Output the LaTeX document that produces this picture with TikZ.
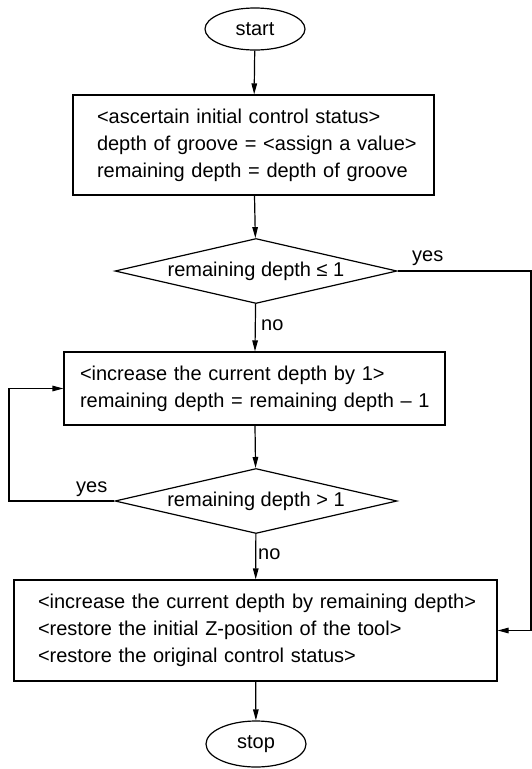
\documentclass[tikz,border=0pt]{standalone}
\usepackage{fontspec}
\setmainfont{Liberation Sans}
\usetikzlibrary{shapes.geometric,arrows.meta,calc}
\begin{document}
\begin{tikzpicture}[x=1pt,y=-1pt,
  every node/.style={font=\fontsize{20}{27}\selectfont},
  line/.style={line width=1.2pt},
  flow/.style={line, -{Triangle[length=11pt,width=5.5pt]}},
  terminal/.style={draw, line width=1.2pt, ellipse, inner sep=0pt},
  procbox/.style={draw, line width=1.2pt, rectangle, align=left, inner ysep=0pt},
  decision/.style={draw, line width=1.2pt, diamond, inner sep=0pt, aspect=4.3,
    minimum width=282pt, minimum height=65pt},
  tag/.style={inner sep=0pt, anchor=base west}]
\useasboundingbox (0,0) rectangle (532,769);

% terminals
\node[terminal, minimum width=100pt, minimum height=42pt] (start) at (255,29) {start};
\node[terminal, minimum width=100pt, minimum height=46pt] (stop) at (256,744) {stop};

% process boxes (each line kept unbroken)
\node[procbox, minimum height=100pt, text width=313pt, inner xsep=24pt] (init) at (253.5,145)
  {\mbox{<ascertain initial control status>}\\
   \mbox{depth of groove = <assign a value>}\\
   \mbox{remaining depth = depth of groove}};
\node[procbox, minimum height=73pt, text width=349pt, inner xsep=16pt] (step1) at (254.5,388.5)
  {\mbox{<increase the current depth by 1>}\\
   \mbox{remaining depth = remaining depth – 1}};
\node[procbox, minimum height=101pt, text width=435pt, inner xsep=24pt] (final) at (255.5,630.5)
  {\mbox{<increase the current depth by remaining depth>}\\
   \mbox{<restore the initial Z-position of the tool>}\\
   \mbox{<restore the original control status>}};

% decisions
\node[decision] (d1) at (256,271) {remaining depth ≤ 1};
\node[decision] (d2) at (256,501) {remaining depth > 1};

% routing points
\coordinate (r1) at (531,271);
\coordinate (r2) at (531,630.5);
\coordinate (l1) at (9,501);
\coordinate (l2) at (9,388.5);

% connectors
\draw[flow] (start) -- (init);
\draw[flow] (init) -- (d1);
\draw[flow] (d1) -- (step1);
\draw[flow] (step1) -- (d2);
\draw[flow] (d2) -- (final);
\draw[flow] (final) -- (stop);
\draw[flow] (d1.east) -- (r1) -- (r2) -- (final.east);
\draw[flow] (d2.west) -- (l1) -- (l2) -- (step1.west);

% branch labels
\node[tag] (yes1) at (412,261) {yes};
\node[tag] (no1) at (261,330) {no};
\node[tag] (yes2) at (76,492) {yes};
\node[tag] (no2) at (258,559) {no};
\end{tikzpicture}
\end{document}
